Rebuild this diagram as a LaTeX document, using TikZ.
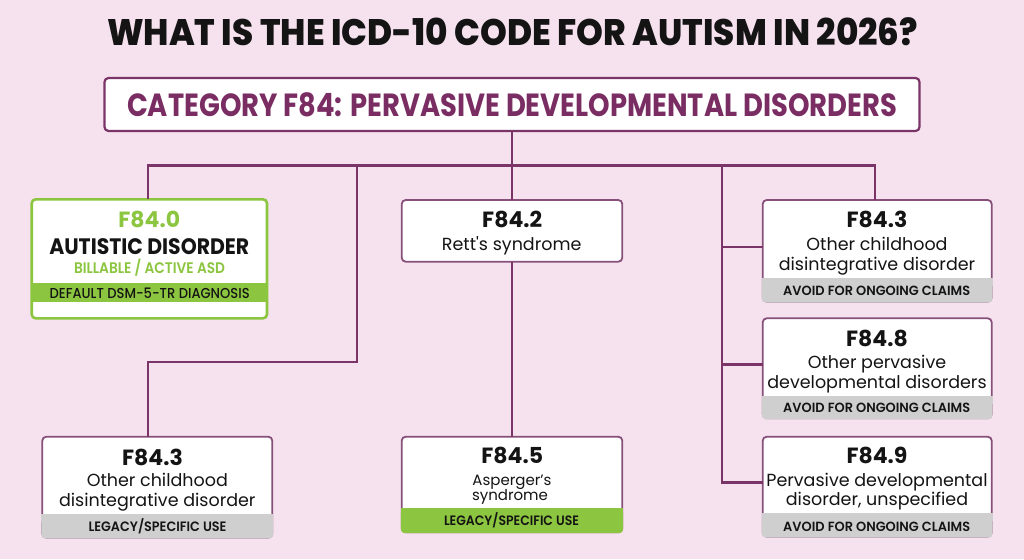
\documentclass[tikz,border=0pt]{standalone}
\usepackage{fontspec}
\setmainfont{Poppins}[Ligatures=TeXOff]
\newfontfamily\pmed{Poppins Medium}
\newfontfamily\psemi{Poppins SemiBold}
\newfontfamily\pbold{Poppins Bold}
\newfontfamily\pxb{Poppins ExtraBold}
\usetikzlibrary{calc}
\definecolor{bg}{HTML}{F6E2EE}
\definecolor{plum}{HTML}{7A3467}
\definecolor{boxline}{HTML}{86507A}
\definecolor{plumtext}{HTML}{7A2D62}
\definecolor{lime}{HTML}{8CC53F}
\definecolor{bandgray}{HTML}{CFCFCF}
\definecolor{ink}{HTML}{141414}
\newlength\cbw \newlength\cbh
\newcommand\capsbox[3]{\settowidth\cbw{#3}\settoheight\cbh{H}%
  \pgfmathsetmacro\cbsx{#1/\cbw}\pgfmathsetmacro\cbsy{#2/\cbh}%
  \scalebox{\cbsx}[\cbsy]{#3}}
\newcommand\bandfill[3]{%
  \fill[#3,rounded corners=4pt] ($(#1.south west)+(-0.9,0.9)$) rectangle ($(#1.south east)+(0.9,-#2)$);
  \fill[#3] ($(#1.south west)+(-0.9,-#2)$) rectangle ($(#1.south east)+(0.9,-#2+8)$);}
\begin{document}
\begin{tikzpicture}[x=1pt,y=-1pt,
  pbox/.style={draw=boxline,line width=1.8pt,fill=white,rounded corners=4pt,inner sep=0pt,outer sep=0pt},
  conn/.style={draw=plum,line width=2.7pt},
  txt/.style={anchor=base,inner sep=0pt,text=ink},
  code/.style={txt,font=\pbold\fontsize{22}{24}\selectfont},
  desc/.style={txt,font=\fontsize{17.5}{20}\selectfont},
  band/.style={txt,font=\psemi\fontsize{13}{14}\selectfont}]
\fill[bg] (0,0) rectangle (1024,559);
\useasboundingbox (0,0) rectangle (1024,559);

% title
\node[txt,font=\pxb\fontsize{36}{40}\selectfont] (title) at (512.5,46) {\capsbox{811}{26}{WHAT IS THE ICD-10 CODE FOR AUTISM IN 2026?}};

% connectors (drawn first, boxes on top)
\coordinate (hub) at (512,165.5);
\coordinate (jl) at (148,165.5);
\coordinate (ja) at (357,165.5);
\coordinate (jt) at (722,165.5);
\coordinate (jr) at (875,165.5);
\coordinate (jb) at (357,362);

% category box
\node[pbox,minimum width=815pt,minimum height=53pt,line width=2.2pt,draw=plum] (cat) at (512,104.5) {};
\node[txt,text=plumtext,font=\pbold\fontsize{30}{32}\selectfont] (cattxt) at (512,116) {\capsbox{770}{22.5}{CATEGORY F84: PERVASIVE DEVELOPMENTAL DISORDERS}};

% boxes
\node[pbox,draw=lime,line width=2.6pt,minimum width=235.3pt,minimum height=119pt] (f840) at (149.35,258.8) {};
\fill[lime] (31.7,282.7) rectangle (267,301.7);
\node[pbox,minimum width=220.6pt,minimum height=61.7pt] (f842) at (512,230.85) {};
\node[pbox,minimum width=229pt,minimum height=101.7pt] (f843r) at (877.2,250.85) {};
\node[pbox,minimum width=229pt,minimum height=100pt] (f848) at (877.2,368.3) {};
\node[pbox,minimum width=229pt,minimum height=100pt] (f849) at (877.2,486.7) {};
\node[pbox,minimum width=230pt,minimum height=101pt] (f843l) at (157.3,487.2) {};
\node[pbox,minimum width=220.6pt,minimum height=95.6pt] (f845) at (512,484.5) {};
\bandfill{f843r}{23.4}{bandgray}
\bandfill{f848}{22.3}{bandgray}
\bandfill{f849}{23.4}{bandgray}
\bandfill{f843l}{23.4}{bandgray}
\bandfill{f845}{24}{lime}

\coordinate (b1) at ($(f843r.west)+(0,-4)$);
\coordinate (b2) at ($(f848.west)+(0,-4)$);
\coordinate (b3) at ($(f849.west)+(0,-4)$);
\draw[conn] (cat.south) -- (hub);
\draw[conn,line cap=rect] (jl) -- (jr);
\draw[conn] (jl) -- (jl |- f840.north);
\draw[conn] (hub) -- (f842.north);
\draw[conn] (jr) -- (jr |- f843r.north);
\draw[conn,line join=miter] (ja) -- (jb) -- (jb -| jl) -- (jl |- f843l.north);
\draw[conn,line join=miter] (jt) -- (jt |- b3) -- (b3);
\draw[conn] (jt |- b1) -- (b1);
\draw[conn] (jt |- b2) -- (b2);
\draw[conn] (f842.south) -- (f845.north);

% F84.0
\node[code,text=lime] (t40a) at (149.3,227.7) {F84.0};
\node[txt,font=\pbold\fontsize{21}{24}\selectfont] (t40b) at (149.3,254) {\capsbox{200}{15.7}{AUTISTIC DISORDER}};
\node[txt,text=lime,font=\psemi\fontsize{15}{16}\selectfont] (t40c) at (149.5,273.3) {\capsbox{151}{10.7}{BILLABLE / ACTIVE ASD}};
\node[txt,font=\pmed\fontsize{14}{16}\selectfont] (t40d) at (149.7,298.3) {\capsbox{200}{10}{DEFAULT DSM-5-TR DIAGNOSIS}};

% F84.2
\node[code] (t42a) at (512.2,227.3) {F84.2};
\node[desc] (t42b) at (511.7,250.7) {Rett's syndrome};

% F84.3 right
\node[code] (t43a) at (877,227.3) {F84.3};
\node[desc] (t43b) at (877,250) {Other childhood};
\node[desc] (t43c) at (877,270) {disintegrative disorder};
\node[band] (t43d) at (876.7,295) {\capsbox{187}{9.3}{AVOID FOR ONGOING CLAIMS}};

% F84.8
\node[code] (t48a) at (877,346) {F84.8};
\node[desc] (t48b) at (877,368.5) {Other pervasive};
\node[desc] (t48c) at (877,388) {developmental disorders};
\node[band] (t48d) at (876.7,412.7) {\capsbox{187}{9.3}{AVOID FOR ONGOING CLAIMS}};

% F84.9
\node[code] (t49a) at (877,463.8) {F84.9};
\node[desc] (t49b) at (877,486.7) {Pervasive developmental};
\node[desc] (t49c) at (877,505.5) {disorder, unspecified};
\node[band] (t49d) at (876.7,531) {\capsbox{187}{9.3}{AVOID FOR ONGOING CLAIMS}};

% F84.3 left
\node[code] (t43la) at (152.5,465) {F84.3};
\node[desc] (t43lb) at (157.3,486.7) {Other childhood};
\node[desc] (t43lc) at (157.3,506.5) {disintegrative disorder};
\node[band] (t43ld) at (157.5,531) {\capsbox{138}{9.5}{LEGACY/SPECIFIC USE}};

% F84.5
\node[code] (t45a) at (512.2,463.5) {F84.5};
\node[desc,font=\fontsize{15}{17}\selectfont] (t45b) at (512,485.5) {Asperger’s};
\node[desc,font=\fontsize{15}{17}\selectfont] (t45c) at (510,500.5) {syndrome};
\node[band] (t45d) at (511.5,525) {\capsbox{135}{9.5}{LEGACY/SPECIFIC USE}};
\end{tikzpicture}
\end{document}
